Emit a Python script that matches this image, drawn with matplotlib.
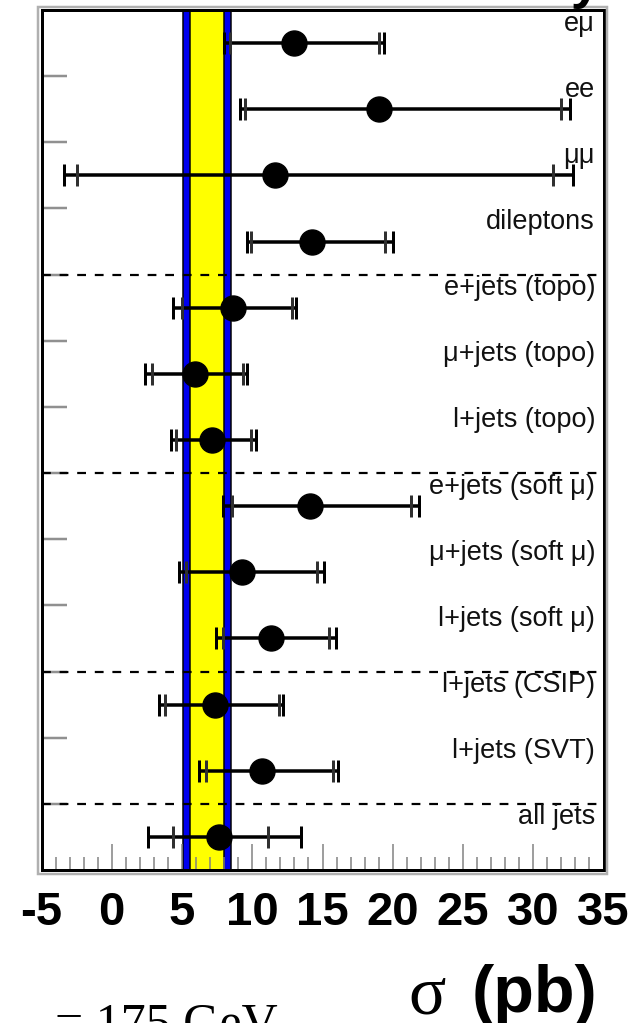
import numpy as np
import matplotlib
matplotlib.use("Agg")
import matplotlib.pyplot as plt
from matplotlib.patches import Rectangle
from matplotlib.ticker import MultipleLocator

# measurements (pb), top to bottom
channels = ["eμ", "ee", "μμ", "dileptons",
            "e+jets (topo)", "μ+jets (topo)", "l+jets (topo)",
            "e+jets (soft μ)", "μ+jets (soft μ)", "l+jets (soft μ)",
            "l+jets (CSIP)", "l+jets (SVT)", "all jets"]
xsec = [13.0, 19.0, 11.6, 14.25, 8.6, 5.9, 7.1, 14.1, 9.3, 11.3, 7.35, 10.7, 7.65]
stat_minus = [4.6, 9.5, 14.1, 4.35, 3.6, 3.0, 2.5, 5.55, 4.0, 3.4, 3.55, 4.0, 3.3]
stat_plus = [6.0, 13.0, 19.8, 5.2, 4.2, 3.45, 2.8, 7.2, 5.3, 4.15, 4.55, 5.05, 3.5]
tot_minus = [5.0, 9.9, 15.0, 4.6, 4.25, 3.55, 2.85, 6.2, 4.5, 3.85, 4.0, 4.5, 5.05]
tot_plus = [6.4, 13.6, 21.2, 5.75, 4.5, 3.75, 3.15, 7.8, 5.8, 4.65, 4.85, 5.4, 5.8]

# theory band
band_outer = (5.1, 8.5)
band_inner = (5.6, 8.0)

# group separators (between rows)
separators = [3.5, 6.5, 9.5, 11.5]

xticks = [-5, 0, 5, 10, 15, 20, 25, 30, 35]

W, H = 638, 1023
fig = plt.figure(figsize=(W / 100, H / 100), dpi=100)
px = 72 / 100  # points per pixel

x0, x1, y0, y1 = 41.5, 603.5, 10, 870
ax = fig.add_axes([x0 / W, 1 - y1 / H, (x1 - x0) / W, (y1 - y0) / H])

ypos = np.arange(len(channels))

ax.axvspan(*band_outer, facecolor="#0000ee", edgecolor="black", lw=1.5 * px, zorder=1)
ax.axvspan(*band_inner, facecolor="#ffff00", edgecolor="black", lw=1.5 * px, zorder=1.1)

for s in separators:
    ax.axhline(s, color="black", lw=2.2 * px, ls=(0, (4, 4)), zorder=2)

# total error with caps
ax.errorbar(xsec, ypos, xerr=[tot_minus, tot_plus], fmt="none", ecolor="black",
            elinewidth=3.5 * px, capsize=11.5 * px, capthick=3 * px, zorder=3)
# statistical caps
ax.errorbar(xsec, ypos, xerr=[stat_minus, stat_plus], fmt="none", ecolor="#303030",
            elinewidth=0, capsize=11.5 * px, capthick=3 * px, zorder=3)
ax.plot(xsec, ypos, "o", color="black", ms=25 * px, zorder=4)

for i, lab in enumerate(channels):
    ax.text(34.4, i - 0.19, lab, ha="right", va="baseline", fontsize=19.5,
            family="Liberation Sans", color="#111111", zorder=5)

ax.set_xlim(-5, 35)
ax.set_ylim(len(channels) - 0.5, -0.5)

ax.xaxis.set_major_locator(MultipleLocator(5))
ax.xaxis.set_minor_locator(MultipleLocator(1))
ax.set_xticks(xticks)
ax.set_xticklabels([str(t) for t in xticks], fontsize=34, fontweight="bold",
                   family="Liberation Sans")
ax.tick_params(axis="x", which="major", direction="in", length=26 * px, width=1.5 * px,
               color="#808080", pad=15, top=False)
ax.tick_params(axis="x", which="minor", direction="in", length=13 * px, width=1.5 * px,
               color="#808080", top=False)
ax.set_yticks(np.arange(len(channels) - 1) + 0.5)
ax.set_yticklabels([])
ax.tick_params(axis="y", direction="in", length=25 * px, width=2.5 * px, color="#909090",
               right=False)

for sp in ax.spines.values():
    sp.set_linewidth(3 * px)
    sp.set_color("black")
    sp.set_zorder(6)

# grey shadow around the frame
fig.patches.append(Rectangle(((x0 - 3.5) / W, 1 - (y1 + 3.5) / H),
                             (x1 - x0 + 7) / W, (y1 - y0 + 7) / H,
                             transform=fig.transFigure, fill=False,
                             edgecolor="#b0b0b0", lw=2.5 * px, zorder=0))

# title (cut off at top of the image)
fig.text(45 / W, 1 + 2 / H, "DØ Run II Preliminary", ha="left", va="baseline",
         fontsize=39, fontweight="bold", family="Liberation Sans")

fig.text(408 / W, 1 - 1013 / H, "σ", ha="left", va="baseline", fontsize=50,
         family="Liberation Serif")
fig.text(472 / W, 1 - 1012 / H, "(pb)", ha="left", va="baseline", fontsize=48,
         fontweight="bold", family="Liberation Sans")
fig.text(55 / W, 1 - 1038 / H, "= 175 GeV", ha="left", va="baseline", fontsize=36,
         family="Liberation Serif")

fig.savefig("out.png", dpi=100)
